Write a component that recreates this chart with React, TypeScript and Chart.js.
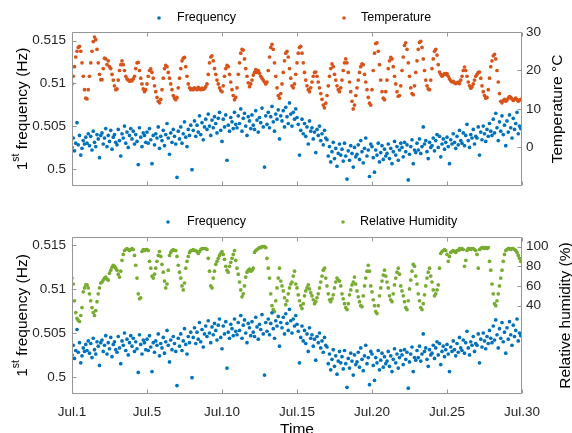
import { useEffect, useRef } from 'react';
import { Chart, registerables } from 'chart.js';

Chart.register(...registerables);

// 12 readings per day, starting at day 0 (labelled Jul.1)
const samplesPerDay = 12;

const dayTicks = [0, 5, 10, 15, 20, 25, 30];
const dayLabels = ['Jul.1', 'Jul.5', 'Jul.10', 'Jul.15', 'Jul.20', 'Jul.25', 'Jul.30'];
const freqTicks = [0.5, 0.505, 0.51, 0.515];
const freqLabels = ['0.5', '0.505', '0.51', '0.515'];
const tempTicks = [0, 10, 20, 30];
const humidityTicks = [40, 60, 80, 100];

// 1st natural frequency (Hz), one row per day
const frequency = [
  0.5025, 0.5036, 0.5021, 0.5030, 0.5054, 0.5028, 0.5039, 0.5016, 0.5024, 0.5033, 0.5029, 0.5037,
  0.5030, 0.5041, 0.5027, 0.5038, 0.5022, 0.5044, 0.5031, 0.5026, 0.5040, 0.5035, 0.5013, 0.5039,
  0.5042, 0.5029, 0.5036, 0.5047, 0.5026, 0.5039, 0.5032, 0.5045, 0.5023, 0.5037, 0.5040, 0.5031,
  0.5028, 0.5046, 0.5033, 0.5015, 0.5041, 0.5036, 0.5050, 0.5030, 0.5043, 0.5025, 0.5039, 0.5047,
  0.5035, 0.5044, 0.5029, 0.5040, 0.5032, 0.5005, 0.5048, 0.5037, 0.5026, 0.5042, 0.5039, 0.5031,
  0.5043, 0.5030, 0.5047, 0.5034, 0.5006, 0.5039, 0.5028, 0.5041, 0.5036, 0.5049, 0.5024, 0.5038,
  0.5033, 0.5045, 0.5027, 0.5040, 0.5053, 0.5036, 0.5017, 0.5042, 0.5031, 0.5046, 0.5038, 0.5029,
  0.4990, 0.5044, 0.5035, 0.5049, 0.5030, 0.5041, 0.5055, 0.5037, 0.5026, 0.5046, 0.5039, 0.5051,
  0.4999, 0.5045, 0.5056, 0.5038, 0.5051, 0.5043, 0.5062, 0.5040, 0.5054, 0.5034, 0.5049, 0.5058,
  0.5046, 0.5064, 0.5050, 0.5039, 0.5057, 0.5048, 0.5061, 0.5053, 0.5042, 0.5059, 0.5066, 0.5045,
  0.5032, 0.5058, 0.5049, 0.5063, 0.5010, 0.5051, 0.5044, 0.5060, 0.5055, 0.5047, 0.5066, 0.5052,
  0.5048, 0.5062, 0.5053, 0.5070, 0.5044, 0.5059, 0.5065, 0.5050, 0.5039, 0.5061, 0.5056, 0.5047,
  0.5063, 0.5051, 0.5046, 0.5068, 0.5057, 0.5043, 0.5060, 0.5054, 0.5071, 0.5049, 0.5002, 0.5062,
  0.5052, 0.5066, 0.5048, 0.5061, 0.5073, 0.5055, 0.5044, 0.5064, 0.5058, 0.5069, 0.5035, 0.5062,
  0.5056, 0.5068, 0.5049, 0.5072, 0.5061, 0.5053, 0.5077, 0.5064, 0.5050, 0.5066, 0.5058, 0.5070,
  0.5060, 0.5052, 0.5016, 0.5045, 0.5058, 0.5041, 0.5053, 0.5038, 0.5049, 0.5029, 0.5056, 0.5044,
  0.5048, 0.5035, 0.5043, 0.5019, 0.5046, 0.5039, 0.5050, 0.5033, 0.5041, 0.5028, 0.5045, 0.5036,
  0.5034, 0.5015, 0.5026, 0.5008, 0.5020, 0.5031, 0.5012, 0.5024, 0.5003, 0.5018, 0.5029, 0.5016,
  0.5023, 0.5009, 0.5030, 0.5015, 0.4988, 0.5021, 0.5010, 0.5027, 0.5018, 0.5002, 0.5025, 0.5014,
  0.5017, 0.5028, 0.5011, 0.5033, 0.5020, 0.5007, 0.5024, 0.5036, 0.5015, 0.5022, 0.4991, 0.5029,
  0.5026, 0.5013, 0.4996, 0.5022, 0.5016, 0.5030, 0.5008, 0.5019, 0.5027, 0.5011, 0.5023, 0.5015,
  0.5018, 0.5029, 0.5012, 0.5024, 0.5006, 0.5020, 0.5032, 0.5016, 0.5026, 0.5010, 0.5022, 0.5030,
  0.5025, 0.5014, 0.5031, 0.5020, 0.5028, 0.4987, 0.5017, 0.5026, 0.5034, 0.5006, 0.5022, 0.5019,
  0.5030, 0.5022, 0.5035, 0.5018, 0.5026, 0.5049, 0.5029, 0.5033, 0.5020, 0.5012, 0.5031, 0.5025,
  0.5027, 0.5036, 0.5021, 0.5033, 0.5040, 0.5025, 0.5038, 0.5014, 0.5029, 0.5035, 0.5023, 0.5031,
  0.5037, 0.5026, 0.5006, 0.5034, 0.5029, 0.5041, 0.5031, 0.5024, 0.5038, 0.5028, 0.5045, 0.5033,
  0.5030, 0.5042, 0.5027, 0.5039, 0.5052, 0.5033, 0.5025, 0.5040, 0.5036, 0.5046, 0.5029, 0.5038,
  0.5036, 0.5049, 0.5016, 0.5043, 0.5034, 0.5050, 0.5041, 0.5032, 0.5046, 0.5038, 0.5053, 0.5044,
  0.5039, 0.5058, 0.5042, 0.5065, 0.5048, 0.5033, 0.5055, 0.5044, 0.5062, 0.5040, 0.5051, 0.5027,
  0.5056, 0.5043, 0.5063, 0.5048, 0.5036, 0.5059, 0.5046, 0.5053, 0.5066, 0.5041, 0.5050, 0.5047,
];

// Air temperature (°C), one row per day
const temperature = [
  16.5, 18.5, 21.0, 23.5, 25.0, 26.0, 26.3, 25.0, 22.0, 18.5, 15.0, 12.8,
  12.6, 15.0, 18.5, 22.0, 25.0, 27.5, 28.7, 28.0, 25.5, 22.0, 19.0, 17.6,
  17.6, 20.5, 23.2, 23.0, 21.5, 22.5, 21.0, 20.5, 19.0, 17.5, 16.0, 15.0,
  15.2, 17.5, 20.0, 21.5, 22.5, 21.5, 20.0, 18.5, 17.8, 17.5, 17.2, 17.5,
  17.3, 17.8, 18.5, 20.5, 22.0, 22.1, 20.0, 18.0, 16.5, 15.2, 14.5, 15.0,
  16.5, 18.5, 20.0, 20.4, 19.5, 18.0, 16.0, 14.5, 13.0, 12.0, 11.6, 12.5,
  15.0, 18.0, 20.5, 21.3, 21.0, 19.5, 18.0, 16.5, 15.0, 13.5, 12.8, 12.4,
  13.0, 15.5, 18.0, 20.5, 22.5, 23.2, 23.4, 21.0, 18.5, 16.5, 15.5, 15.0,
  15.2, 15.0, 15.5, 15.3, 15.0, 15.6, 15.2, 15.0, 15.4, 15.1, 15.3, 15.8,
  16.5, 19.0, 22.0, 23.5, 23.8, 22.5, 20.5, 19.0, 17.5, 16.5, 15.5, 14.8,
  14.5, 16.0, 18.5, 20.5, 21.3, 21.0, 19.0, 17.0, 15.0, 13.5, 12.4, 13.0,
  15.5, 19.0, 22.0, 24.5, 25.5, 25.3, 23.0, 20.5, 18.5, 16.8, 15.8, 16.5,
  17.5, 18.8, 19.5, 20.2, 19.5, 20.0, 19.3, 18.5, 18.0, 17.5, 17.0, 16.5,
  17.0, 20.0, 23.5, 26.0, 26.8, 25.5, 22.0, 18.5, 15.5, 13.5, 12.8, 14.0,
  16.5, 19.5, 22.5, 24.5, 25.0, 23.5, 20.5, 18.0, 16.0, 15.5, 16.5, 19.0,
  22.0, 24.5, 26.0, 26.3, 24.5, 22.0, 19.5, 17.5, 16.0, 15.0, 14.5, 15.5,
  17.0, 18.5, 19.5, 19.6, 18.5, 17.0, 15.5, 14.0, 12.5, 11.0, 10.3, 11.5,
  13.5, 16.0, 18.5, 20.5, 21.7, 21.0, 19.0, 17.5, 16.0, 15.0, 14.5, 15.5,
  17.5, 20.0, 22.0, 23.0, 22.0, 19.5, 17.0, 14.5, 12.0, 10.0, 11.0, 13.5,
  15.5, 17.5, 19.5, 21.0, 21.7, 21.5, 19.0, 17.0, 15.0, 13.0, 11.5, 11.0,
  15.0, 20.0, 24.5, 27.0, 27.2, 25.0, 21.5, 17.5, 14.5, 12.8, 12.4, 14.5,
  17.5, 20.5, 22.5, 23.4, 23.0, 21.0, 18.5, 16.5, 14.5, 13.3, 13.5, 16.0,
  20.0, 23.5, 26.5, 27.2, 25.5, 22.0, 18.5, 15.5, 14.0, 13.7, 16.0, 19.5,
  22.5, 25.5, 27.3, 27.6, 26.0, 23.0, 20.0, 17.5, 16.0, 15.2, 15.0, 17.5,
  20.5, 23.0, 25.0, 25.5, 24.0, 21.5, 19.6, 19.0, 18.5, 18.8, 19.2, 19.0,
  19.2, 18.5, 17.8, 17.3, 17.0, 17.2, 16.8, 16.6, 16.8, 17.0, 16.6, 17.5,
  18.5, 20.0, 20.9, 20.0, 18.5, 17.0, 16.0, 15.4, 15.8, 16.5, 17.5, 18.5,
  19.0, 19.5, 19.6, 18.0, 16.0, 14.5, 13.5, 12.8, 13.0, 15.0, 18.0, 21.0,
  22.5, 23.8, 24.2, 23.0, 20.0, 17.0, 14.0, 12.0, 11.6, 12.2, 12.5, 12.0,
  12.3, 12.8, 13.2, 13.0, 12.6, 12.2, 12.5, 12.8, 12.4, 12.0, 12.3, 12.5,
];

// Relative humidity (%), one row per day
const humidity = [
  68, 62, 45, 33, 27, 25, 24, 30, 38, 54, 58, 61,
  61, 58, 52, 45, 38, 33, 30, 35, 44, 52, 58, 63,
  64, 66, 68, 69, 67, 66, 73, 76, 79, 81, 80, 78,
  76, 72, 69, 75, 86, 92, 96, 97, 98, 97, 96, 97,
  98, 97, 91, 81, 68, 52, 47, 48, 95, 97, 96, 97,
  97, 96, 85, 78, 70, 68, 72, 78, 85, 91, 95, 90,
  82, 74, 65, 58, 62, 76, 91, 94, 96, 97, 96, 96,
  90, 81, 74, 68, 60, 56, 63, 78, 85, 90, 94, 96,
  96, 97, 96, 96, 95, 93, 95, 97, 98, 98, 98, 98,
  97, 88, 75, 60, 58, 68, 75, 82, 85, 88, 91, 93,
  95, 92, 87, 80, 76, 74, 80, 84, 88, 92, 96, 86,
  78, 72, 64, 56, 49, 52, 60, 69, 74, 76, 77, 75,
  76, 78, 94, 96, 97, 98, 99, 99, 100, 100, 100, 99,
  88, 78, 68, 52, 40, 36, 34, 45, 58, 68, 78, 65,
  60, 55, 48, 41, 45, 52, 58, 62, 64, 70, 75, 62,
  58, 51, 45, 40, 37, 42, 50, 55, 58, 61, 57, 53,
  50, 46, 42, 44, 48, 52, 58, 64, 70, 76, 78, 68,
  60, 52, 46, 44, 47, 51, 58, 64, 68, 66, 65, 60,
  52, 47, 42, 38, 36, 42, 51, 56, 61, 64, 69, 62,
  55, 49, 44, 40, 39, 50, 60, 68, 75, 81, 75, 60,
  54, 46, 40, 34, 32, 40, 50, 58, 65, 71, 76, 70,
  64, 58, 50, 46, 44, 52, 61, 68, 74, 78, 72, 60,
  55, 50, 44, 38, 36, 45, 57, 66, 75, 82, 80, 70,
  62, 52, 45, 38, 36, 42, 51, 60, 68, 74, 78, 70,
  64, 56, 50, 52, 56, 61, 78, 93, 95, 96, 97, 96,
  92, 85, 90, 94, 95, 96, 95, 94, 96, 96, 98, 97,
  98, 97, 80, 86, 96, 98, 98, 97, 98, 98, 97, 96,
  92, 78, 97, 98, 99, 99, 98, 99, 98, 99, 85, 76,
  62, 52, 42, 40, 45, 52, 60, 68, 76, 85, 92, 96,
  97, 98, 98, 97, 98, 98, 97, 96, 94, 91, 88, 85,
];

const BLUE = '#0072BD';
const ORANGE = '#D95319';
const GREEN = '#77AC30';
const FRAME = '#969696';
const TICK_TEXT = '#262626';
const FAMILY = '"Liberation Sans", Arial, Helvetica, sans-serif';
const WIDTH = 572;
const PLOT_LEFT = 72;
const PLOT_RIGHT = 522;
const DOT = 1.85;

type LegendItem = { label: string; color: string; markerX: number; textX: number };

type PanelSpec = {
  height: number;
  plotTop: number;
  plotBottom: number;
  legendY: number;
  legend: LegendItem[];
  env: number[];
  envLabel: string;
  envColor: string;
  envMin: number;
  envMax: number;
  envTicks: number[];
  envTitle: string;
  envTitleX: number;
  showDates: boolean;
  xTitle: string | null;
  xTitleY: number;
};

const toPoints = (values: number[]) =>
  values.map((v, i) => ({ x: i / samplesPerDay, y: v }));

function drawLeftTitle(ctx: CanvasRenderingContext2D, xBase: number, yc: number) {
  const main = `15.5px ${FAMILY}`;
  const sup = `10.5px ${FAMILY}`;
  ctx.font = main;
  const w1 = ctx.measureText('1').width;
  const w3 = ctx.measureText(' frequency (Hz)').width;
  ctx.font = sup;
  const w2 = ctx.measureText('st').width;
  const total = w1 + w2 + w3;
  ctx.save();
  ctx.translate(xBase, yc);
  ctx.rotate(-Math.PI / 2);
  ctx.fillStyle = '#000';
  ctx.textAlign = 'left';
  ctx.textBaseline = 'alphabetic';
  let x = -total / 2;
  ctx.font = main;
  ctx.fillText('1', x, 0);
  x += w1;
  ctx.font = sup;
  ctx.fillText('st', x, -8);
  x += w2;
  ctx.font = main;
  ctx.fillText(' frequency (Hz)', x, 0);
  ctx.restore();
}

function framePlugin(spec: PanelSpec) {
  return {
    id: 'panelFrame',
    afterDraw(chart: any) {
      const { ctx, chartArea: a, scales } = chart;
      const tl = 4;
      ctx.save();
      // axes box and inward tick marks
      ctx.strokeStyle = FRAME;
      ctx.lineWidth = 1;
      const L = Math.round(a.left) + 0.5;
      const R = Math.round(a.right) - 0.5;
      const T = Math.round(a.top) + 0.5;
      const B = Math.round(a.bottom) - 0.5;
      ctx.beginPath();
      ctx.rect(L, T, R - L, B - T);
      for (const t of scales.x.ticks) {
        const px = Math.round(scales.x.getPixelForValue(t.value)) + 0.5;
        ctx.moveTo(px, B);
        ctx.lineTo(px, B - tl);
        ctx.moveTo(px, T);
        ctx.lineTo(px, T + tl);
      }
      for (const t of scales.yF.ticks) {
        const py = Math.round(scales.yF.getPixelForValue(t.value)) + 0.5;
        ctx.moveTo(L, py);
        ctx.lineTo(L + tl, py);
      }
      for (const t of scales.yE.ticks) {
        const py = Math.round(scales.yE.getPixelForValue(t.value)) + 0.5;
        ctx.moveTo(R, py);
        ctx.lineTo(R - tl, py);
      }
      ctx.stroke();

      // legend
      ctx.font = `12.5px ${FAMILY}`;
      ctx.textAlign = 'left';
      ctx.textBaseline = 'middle';
      for (const item of spec.legend) {
        ctx.fillStyle = item.color;
        ctx.beginPath();
        ctx.arc(item.markerX, spec.legendY, 1.8, 0, Math.PI * 2);
        ctx.fill();
        ctx.fillStyle = '#000';
        ctx.fillText(item.label, item.textX, spec.legendY);
      }

      // axis titles
      const yc = (a.top + a.bottom) / 2;
      drawLeftTitle(ctx, 27, yc);
      ctx.save();
      ctx.translate(spec.envTitleX, yc);
      ctx.rotate(-Math.PI / 2);
      ctx.font = `15.5px ${FAMILY}`;
      ctx.fillStyle = '#000';
      ctx.textAlign = 'center';
      ctx.textBaseline = 'alphabetic';
      ctx.fillText(spec.envTitle, 0, 0);
      ctx.restore();

      if (spec.xTitle) {
        ctx.font = `15.5px ${FAMILY}`;
        ctx.fillStyle = '#000';
        ctx.textAlign = 'center';
        ctx.textBaseline = 'alphabetic';
        ctx.fillText(spec.xTitle, (a.left + a.right) / 2, spec.xTitleY);
      }
      ctx.restore();
    },
  };
}

function buildConfig(spec: PanelSpec): any {
  const tickFont = { family: FAMILY, size: 13.5 };
  return {
    type: 'scatter',
    data: {
      datasets: [
        {
          label: 'Frequency',
          data: toPoints(frequency),
          yAxisID: 'yF',
          backgroundColor: BLUE,
          pointRadius: DOT,
          pointBorderWidth: 0,
          pointHoverRadius: 0,
        },
        {
          label: spec.envLabel,
          data: toPoints(spec.env),
          yAxisID: 'yE',
          backgroundColor: spec.envColor,
          pointRadius: DOT,
          pointBorderWidth: 0,
          pointHoverRadius: 0,
        },
      ],
    },
    options: {
      responsive: false,
      animation: false,
      events: [],
      layout: { padding: { top: spec.plotTop, left: 0, right: 0, bottom: 0 } },
      plugins: { legend: { display: false }, tooltip: { enabled: false } },
      scales: {
        x: {
          type: 'linear',
          position: 'bottom',
          min: 0,
          max: 30,
          afterBuildTicks: (s: any) => {
            s.ticks = dayTicks.map((v) => ({ value: v }));
          },
          afterFit: (s: any) => {
            s.height = spec.height - spec.plotBottom;
          },
          ticks: {
            display: spec.showDates,
            autoSkip: false,
            maxRotation: 0,
            padding: 9.5,
            font: tickFont,
            color: TICK_TEXT,
            callback: (_v: number, i: number) => dayLabels[i],
          },
          grid: { display: false, drawTicks: false },
          border: { display: false },
        },
        yF: {
          type: 'linear',
          position: 'left',
          min: 0.498,
          max: 0.516,
          afterBuildTicks: (s: any) => {
            s.ticks = freqTicks.map((v) => ({ value: v }));
          },
          afterFit: (s: any) => {
            s.width = PLOT_LEFT;
          },
          ticks: {
            padding: 6,
            font: tickFont,
            color: TICK_TEXT,
            callback: (_v: number, i: number) => freqLabels[i],
          },
          grid: { display: false, drawTicks: false },
          border: { display: false },
        },
        yE: {
          type: 'linear',
          position: 'right',
          min: spec.envMin,
          max: spec.envMax,
          afterBuildTicks: (s: any) => {
            s.ticks = spec.envTicks.map((v) => ({ value: v }));
          },
          afterFit: (s: any) => {
            s.width = WIDTH - PLOT_RIGHT;
          },
          ticks: {
            padding: 4,
            font: tickFont,
            color: TICK_TEXT,
            callback: (_v: number, i: number) => String(spec.envTicks[i]),
          },
          grid: { display: false, drawTicks: false },
          border: { display: false },
        },
      },
    },
    plugins: [framePlugin(spec)],
  };
}

const topPanel: PanelSpec = {
  height: 200,
  plotTop: 32,
  plotBottom: 190,
  legendY: 18,
  legend: [
    { label: 'Frequency', color: BLUE, markerX: 159, textX: 177 },
    { label: 'Temperature', color: ORANGE, markerX: 344, textX: 361 },
  ],
  env: temperature,
  envLabel: 'Temperature',
  envColor: ORANGE,
  envMin: -10,
  envMax: 30,
  envTicks: tempTicks,
  envTitle: 'Temperature °C',
  envTitleX: 562,
  showDates: false,
  xTitle: null,
  xTitleY: 0,
};

const bottomPanel: PanelSpec = {
  height: 233,
  plotTop: 36.7,
  plotBottom: 194.3,
  legendY: 22,
  legend: [
    { label: 'Frequency', color: BLUE, markerX: 168, textX: 187 },
    { label: 'Relative Humidity', color: GREEN, markerX: 343, textX: 360 },
  ],
  env: humidity,
  envLabel: 'Relative Humidity',
  envColor: GREEN,
  envMin: -50,
  envMax: 110,
  envTicks: humidityTicks,
  envTitle: 'Relative humidity (%)',
  envTitleX: 569.5,
  showDates: true,
  xTitle: 'Time',
  xTitleY: 234,
};

function Panel({ spec, top }: { spec: PanelSpec; top: number }) {
  const ref = useRef<HTMLCanvasElement | null>(null);
  useEffect(() => {
    if (!ref.current) return;
    const chart = new Chart(ref.current, buildConfig(spec));
    return () => chart.destroy();
  }, [spec]);
  return (
    <canvas
      ref={ref}
      width={WIDTH}
      height={spec.height}
      style={{ position: 'absolute', left: 0, top, width: WIDTH, height: spec.height }}
    />
  );
}

export default function App() {
  return (
    <div style={{ position: 'absolute', left: 0, top: 0, width: WIDTH, height: 433, background: '#fff' }}>
      <Panel spec={topPanel} top={0} />
      <Panel spec={bottomPanel} top={200} />
    </div>
  );
}
